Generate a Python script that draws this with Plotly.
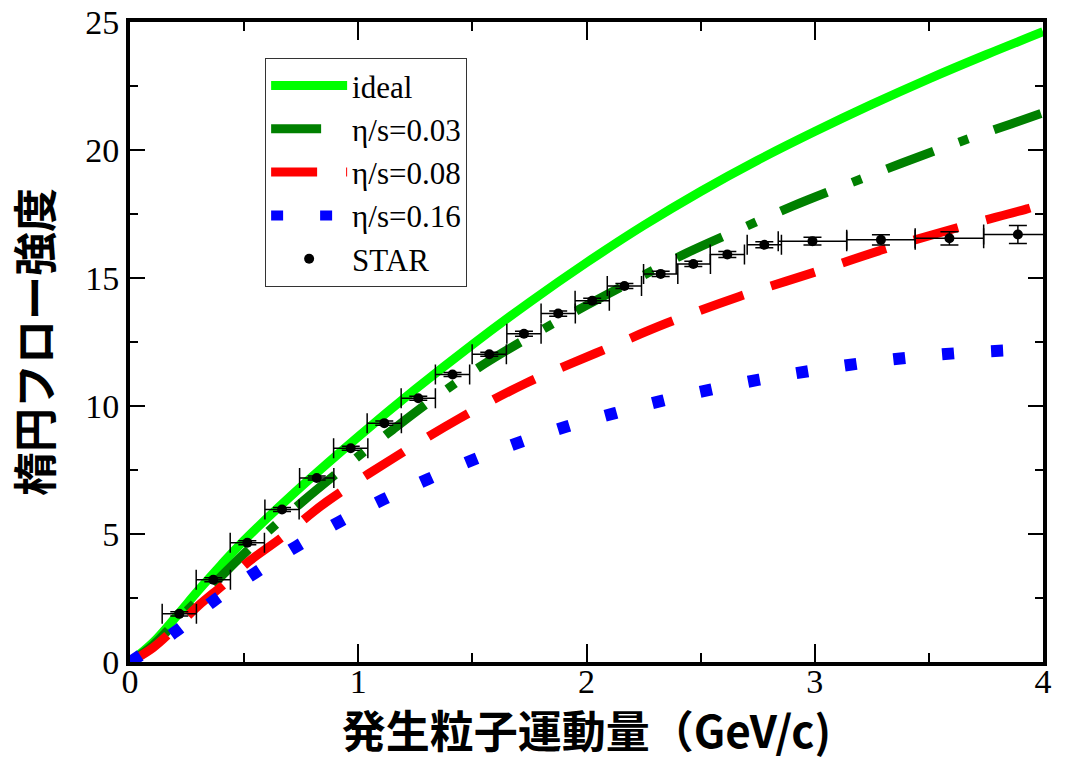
import plotly.graph_objects as go

# ---- data ----
ideal_x = [0, 0.1, 0.2, 0.3, 0.4, 0.5, 0.75, 1.0, 1.25, 1.5, 1.75, 2.0, 2.25, 2.5, 2.75, 3.0, 3.25, 3.5, 3.75, 4.0]
ideal_y = [0, 0.75, 1.75, 2.8, 3.8, 4.75, 6.85, 8.8, 10.65, 12.4, 14.05, 15.6, 17.05, 18.38, 19.6, 20.72, 21.78, 22.78, 23.72, 24.62]

v003_x = [0, 0.1, 0.2, 0.4, 0.55, 0.75, 0.95, 1.15, 1.35, 1.55, 1.78, 2.0, 2.22, 2.44, 2.67, 2.9, 3.14, 3.38, 3.62, 3.86, 4.0]
v003_y = [0, 0.65, 1.55, 3.35, 4.65, 6.22, 7.68, 9.07, 10.41, 11.63, 12.85, 13.93, 14.97, 15.98, 16.9, 17.8, 18.65, 19.48, 20.27, 21.02, 21.45]

v008_x = [0, 0.1, 0.2, 0.3, 0.42, 0.51, 0.67, 0.86, 1.15, 1.44, 1.73, 2.04, 2.35, 2.67, 2.99, 3.31, 3.63, 3.93, 4.0]
v008_y = [0, 0.55, 1.35, 2.2, 3.1, 3.85, 4.9, 6.25, 7.94, 9.5, 10.87, 12.06, 13.23, 14.28, 15.2, 16.14, 16.98, 17.7, 17.9]

v016_x = [0, 0.2, 0.365, 0.548, 0.73, 0.92, 1.11, 1.307, 1.504, 1.709, 1.913, 2.125, 2.333, 2.543, 2.756, 2.972, 3.187, 3.40, 3.617, 3.834, 3.93]
v016_y = [0, 1.19, 2.38, 3.48, 4.52, 5.49, 6.35, 7.15, 7.9, 8.59, 9.2, 9.72, 10.21, 10.64, 11.03, 11.36, 11.65, 11.88, 12.06, 12.17, 12.22]

star_x = [0.216, 0.365, 0.514, 0.666, 0.818, 0.967, 1.114, 1.263, 1.413, 1.574, 1.726, 1.876, 2.025, 2.166, 2.325, 2.468, 2.617, 2.779, 2.99, 3.29, 3.59, 3.89]
star_y = [1.88, 3.21, 4.66, 5.96, 7.19, 8.35, 9.33, 10.30, 11.23, 12.02, 12.82, 13.61, 14.11, 14.69, 15.16, 15.55, 15.92, 16.30, 16.44, 16.49, 16.55, 16.70]
star_xerr = [0.075] * 18 + [0.15] * 4
star_yerr = [0.08] * 10 + [0.1] * 6 + [0.12, 0.12, 0.15, 0.2, 0.26, 0.35]

x_ticks = [0, 1, 2, 3, 4]
y_ticks = [0, 5, 10, 15, 20, 25]

names = ["ideal", "η/s=0.03", "η/s=0.08", "η/s=0.16", "STAR"]

fig = go.Figure()
fig.add_trace(go.Scatter(x=ideal_x, y=ideal_y, mode="lines", name=names[0],
                         line=dict(color="#00ff00", width=9, shape="spline")))
fig.add_trace(go.Scatter(x=v003_x, y=v003_y, mode="lines", name=names[1],
                         line=dict(color="#008000", width=9, shape="spline",
                                   dash="50px,27px,10px,27px")))
fig.add_trace(go.Scatter(x=v008_x, y=v008_y, mode="lines", name=names[2],
                         line=dict(color="#ff0000", width=9, shape="spline",
                                   dash="46px,29px")))
fig.add_trace(go.Scatter(x=v016_x, y=v016_y, mode="lines", name=names[3],
                         line=dict(color="#0000ff", width=12, shape="spline",
                                   dash="12px,37px")))
fig.add_trace(go.Scatter(x=star_x, y=star_y, mode="markers", name=names[4],
                         marker=dict(color="black", size=10, symbol="circle"),
                         error_x=dict(type="data", array=star_xerr, color="black",
                                      thickness=1.5, width=10),
                         error_y=dict(type="data", array=star_yerr, color="black",
                                      thickness=1.5, width=9)))

serif = "Liberation Serif, Times New Roman, serif"
cjk = "Noto Sans CJK JP"

fig.update_layout(
    width=1066, height=761,
    margin=dict(l=130, r=23, t=22, b=99, autoexpand=False),
    paper_bgcolor="white", plot_bgcolor="white",
    showlegend=True,
    legend=dict(x=0.148, y=0.944, xanchor="left", yanchor="top",
                bgcolor="white", bordercolor="#333", borderwidth=1,
                font=dict(family=serif, size=31, color="black"),
                itemwidth=76, tracegroupgap=0),
    xaxis=dict(range=[0, 4], tickvals=x_ticks, ticktext=[str(v) for v in x_ticks],
               ticks="inside", ticklen=18, tickwidth=2, tickcolor="black",
               minor=dict(dtick=0.5, ticks="inside", ticklen=9, tickwidth=2, tickcolor="black"),
               showline=True, linewidth=4, linecolor="black", mirror="allticks",
               showgrid=False, zeroline=False, automargin=False,
               ticklabelstandoff=-14,
               tickfont=dict(family=serif, size=34, color="black"),
               title=dict(text="発生粒子運動量（GeV/c)", standoff=32,
                          font=dict(family=cjk, size=44, color="black", weight="bold"))),
    yaxis=dict(range=[0, 25], tickvals=y_ticks, ticktext=[str(v) for v in y_ticks],
               ticks="inside", ticklen=15, tickwidth=2, tickcolor="black",
               minor=dict(dtick=2.5, ticks="inside", ticklen=8, tickwidth=2, tickcolor="black"),
               showline=True, linewidth=4, linecolor="black", mirror="allticks",
               showgrid=False, zeroline=False, automargin=False,
               tickfont=dict(family=serif, size=34, color="black"),
               title=dict(text="楕円フロー強度", standoff=20,
                          font=dict(family=cjk, size=44, color="black", weight="bold"))),
)

fig.write_html("out.html", config={"displayModeBar": False},
               post_script="document.body.style.margin='0';")
